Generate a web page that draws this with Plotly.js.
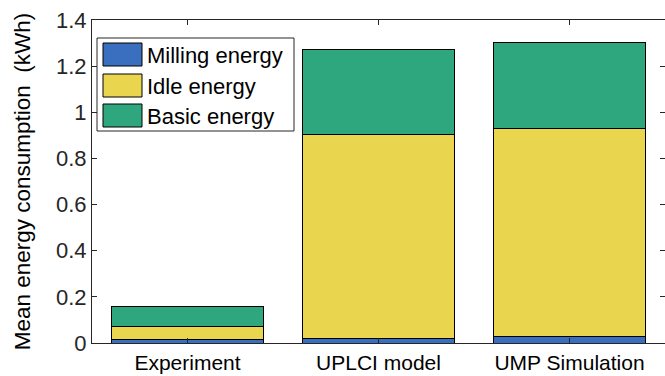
<!DOCTYPE html>
<html>
<head>
<meta charset="utf-8">
<script src="https://cdn.plot.ly/plotly-3.0.1.min.js"></script>
<style>html,body{margin:0;padding:0;background:#fff;}</style>
</head>
<body>
<div id="chart" style="width:665px;height:376px;"></div>
<script>
const categories = ["Experiment", "UPLCI model", "UMP Simulation"];
const seriesNames = ["Milling energy", "Idle energy", "Basic energy"];
const millingEnergy = [0.015, 0.019, 0.029];
const idleEnergy = [0.055, 0.885, 0.901];
const basicEnergy = [0.088, 0.366, 0.373];
const yTicks = [0, 0.2, 0.4, 0.6, 0.8, 1, 1.2, 1.4];
const yTickText = ["0", "0.2", "0.4", "0.6", "0.8", "1", "1.2", "1.4"];
const colors = ["#3A6FBF", "#EAD54F", "#2EA77F"];

const fontFam = "Liberation Sans, Arial, sans-serif";
const axisCol = "#262626";
const series = [millingEnergy, idleEnergy, basicEnergy];
const data = series.map((y, i) => ({
  type: "bar", name: seriesNames[i], x: categories, y: y,
  marker: {color: colors[i], line: {color: "#000", width: 1}},
  hoverinfo: "skip", showlegend: false
}));

// plot area in pixels (for the hand-drawn legend box)
const L = 92, R = 665, T = 20, B = 343;
const px = v => (v - L) / (R - L);
const py = v => (B - v) / (B - T);
const shapes = [{
  type: "rect", xref: "paper", yref: "paper",
  x0: px(97), x1: px(294), y0: py(131), y1: py(38),
  line: {color: "#262626", width: 1}, fillcolor: "#fff", layer: "above"
}];
const annotations = [];
const rowTop = [43, 74, 104];
seriesNames.forEach((n, i) => {
  shapes.push({
    type: "rect", xref: "paper", yref: "paper",
    x0: px(103), x1: px(142), y0: py(rowTop[i] + 23), y1: py(rowTop[i]),
    line: {color: "#000", width: 1}, fillcolor: colors[i], layer: "above"
  });
  annotations.push({
    xref: "paper", yref: "paper", x: px(145), y: py(rowTop[i] + 12),
    xanchor: "left", yanchor: "middle", showarrow: false, text: n,
    font: {family: fontFam, size: 22, color: "#000"}
  });
});

const layout = {
  width: 665, height: 376,
  margin: {l: L, r: 665 - R, t: T, b: 376 - B},
  barmode: "stack", bargap: 0.2,
  paper_bgcolor: "#fff", plot_bgcolor: "#fff",
  font: {family: fontFam, size: 20, color: axisCol},
  showlegend: false,
  shapes: shapes, annotations: annotations,
  xaxis: {
    type: "category", range: [-0.5, 2.5],
    showline: true, linecolor: axisCol, linewidth: 1, mirror: "ticks",
    ticks: "inside", ticklen: 5, tickcolor: axisCol,
    tickfont: {family: fontFam, size: 21, color: "#000"},
    ticklabelstandoff: 1,
    showgrid: false, zeroline: false, fixedrange: true
  },
  yaxis: {
    range: [0, 1.4], tickvals: yTicks, ticktext: yTickText,
    showline: true, linecolor: axisCol, linewidth: 1, mirror: "ticks",
    ticks: "inside", ticklen: 5, tickcolor: axisCol,
    tickfont: {family: fontFam, size: 22, color: axisCol},
    showgrid: false, zeroline: false, fixedrange: true,
    title: {text: "Mean energy consumption  (kWh)", font: {family: fontFam, size: 22.5, color: "#000"}, standoff: 19}
  }
};
Plotly.newPlot("chart", data, layout, {displayModeBar: false, staticPlot: true});
</script>
</body>
</html>
